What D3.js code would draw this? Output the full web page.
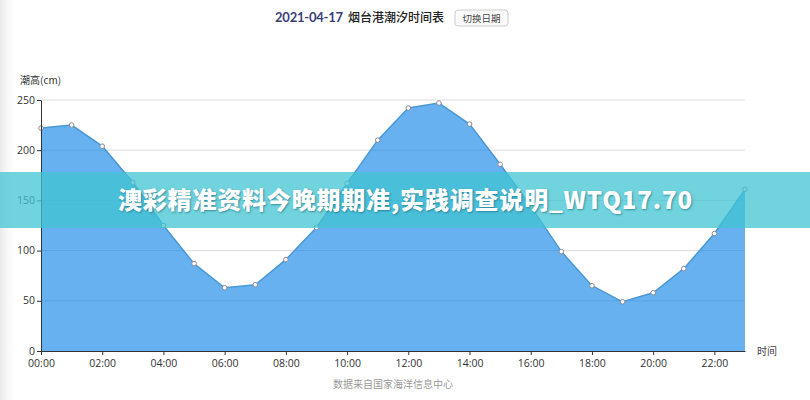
<!DOCTYPE html>
<html><head><meta charset="utf-8">
<script src="https://cdn.jsdelivr.net/npm/d3@7"></script>
<style>body{margin:0;background:#fff;}svg{display:block;font-family:"Noto Sans CJK SC","Noto Sans",sans-serif;}</style>
</head><body><svg id="c" width="810" height="400"></svg>
<script>
const hours = ["00:00","01:00","02:00","03:00","04:00","05:00","06:00","07:00","08:00","09:00","10:00","11:00","12:00","13:00","14:00","15:00","16:00","17:00","18:00","19:00","20:00","21:00","22:00","23:00"];
const tideHeights = [222,225,204,168,125,87,63,66,91,123,167,210,242,247,226,186,144,99,65,49,58,82,117,161];
const xTickLabels = ["00:00","02:00","04:00","06:00","08:00","10:00","12:00","14:00","16:00","18:00","20:00","22:00"];
const yTicks = [0,50,100,150,200,250];

const svg = d3.select("#c");
const m = {l:41, r:745, t:100, b:351};
const x = d3.scalePoint().domain(hours).range([m.l, m.r]);
const y = d3.scaleLinear().domain([0,250]).range([m.b, m.t]);

const defs = svg.append("defs");
const g0 = defs.append("linearGradient").attr("id","edge");
g0.append("stop").attr("offset","0").attr("stop-color","#e9e9e9");
g0.append("stop").attr("offset","1").attr("stop-color","#ffffff").attr("stop-opacity",0);
svg.append("rect").attr("x",0).attr("y",0).attr("width",18).attr("height",400).attr("fill","url(#edge)");

// title
svg.append("text").attr("x",275).attr("y",22).attr("font-size",13).attr("fill","#3a3f78").attr("font-weight","bold")
  .attr("font-family","Lato, 'Noto Sans', sans-serif").attr("textLength",68).text("2021-04-17");
svg.append("text").attr("x",348).attr("y",22).attr("font-size",12).attr("fill","#222").attr("font-weight","500").text("烟台港潮汐时间表");
svg.append("rect").attr("x",455).attr("y",10).attr("width",53).attr("height",16).attr("rx",3)
  .attr("fill","#fafafa").attr("stroke","#ccc");
svg.append("text").attr("x",481.5).attr("y",22).attr("text-anchor","middle").attr("font-size",9.5).attr("fill","#444").text("切换日期");

// grid
svg.append("g").selectAll("line").data(yTicks.filter(d=>d>0)).join("line")
  .attr("x1",m.l).attr("x2",m.r).attr("y1",d=>y(d)).attr("y2",d=>y(d))
  .attr("stroke","#dcdcdc").attr("stroke-width",1);

// area + line
const area = d3.area().x((d,i)=>x(hours[i])).y0(y(0)).y1(d=>y(d));
defs.append("clipPath").attr("id","areaClip").append("path").datum(tideHeights).attr("d",area);
svg.append("path").datum(tideHeights).attr("d",area).attr("fill","#67b1f1");
svg.append("g").attr("clip-path","url(#areaClip)").selectAll("line").data(yTicks.filter(d=>d>0)).join("line")
  .attr("x1",m.l).attr("x2",m.r).attr("y1",d=>y(d)).attr("y2",d=>y(d))
  .attr("stroke","#4f9bdc").attr("stroke-width",1).attr("stroke-opacity",0.6);
const line = d3.line().x((d,i)=>x(hours[i])).y(d=>y(d));
svg.append("path").datum(tideHeights).attr("d",line).attr("fill","none").attr("stroke","#4a98d4").attr("stroke-width",1.5);
svg.append("g").selectAll("circle").data(tideHeights).join("circle")
  .attr("cx",(d,i)=>x(hours[i])).attr("cy",d=>y(d)).attr("r",2.3)
  .attr("fill","#fff").attr("stroke","#8a8a9a").attr("stroke-width",1);

// axes
const yAxis = svg.append("g").attr("transform",`translate(${m.l},0)`)
  .call(d3.axisLeft(y).tickValues(yTicks).tickSize(4).tickSizeOuter(0));
yAxis.select(".domain").attr("stroke","#333");
yAxis.selectAll(".tick line").attr("stroke","#333");
yAxis.selectAll("text").attr("font-size",10.5).attr("fill","#333").attr("x",-6).attr("dy","0.3em").attr("font-family","'Open Sans', sans-serif");

const xAxis = svg.append("g").attr("transform",`translate(0,${m.b})`)
  .call(d3.axisBottom(x).tickValues(xTickLabels).tickSize(4).tickSizeOuter(0));
xAxis.select(".domain").attr("stroke","#333");
xAxis.selectAll(".tick line").attr("stroke","#333");
xAxis.selectAll("text").attr("font-size",10.5).attr("fill","#333").attr("y",8).attr("dy","0.8em").attr("font-family","'Open Sans', sans-serif");

svg.append("text").attr("x",20).attr("y",84).attr("font-size",10).attr("fill","#333").text("潮高(cm)");
svg.append("text").attr("x",757).attr("y",355).attr("font-size",10).attr("fill","#444").text("时间");
svg.append("text").attr("x",393).attr("y",388).attr("text-anchor","middle").attr("font-size",10).attr("fill","#9a9a9a").text("数据来自国家海洋信息中心");

// overlay banner
svg.append("rect").attr("x",0).attr("y",172).attr("width",810).attr("height",56).attr("fill","rgb(64,196,210)").attr("fill-opacity",0.75);
svg.append("text").attr("x",405).attr("y",209).attr("text-anchor","middle").attr("font-size",24).attr("font-weight","900")
  .attr("fill","#fff").attr("textLength",574).style("text-shadow","1px 1px 2px rgba(0,80,100,0.5)")
  .text("澳彩精准资料今晚期期准,实践调查说明_WTQ17.70");
</script></body></html>
